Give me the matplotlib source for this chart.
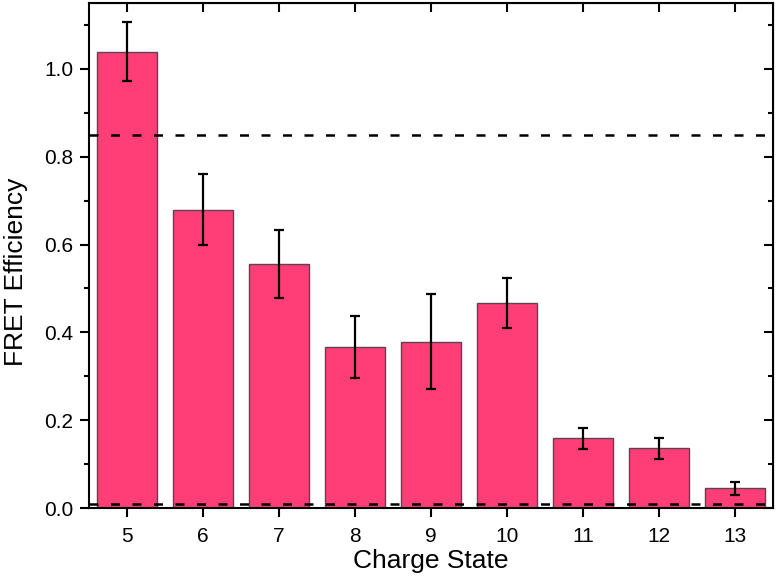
import matplotlib.pyplot as plt
import numpy as np
from matplotlib.ticker import MultipleLocator, FormatStrFormatter

plt.rcParams['font.family'] = ['Liberation Sans', 'DejaVu Sans']

# data
charge_states = [5, 6, 7, 8, 9, 10, 11, 12, 13]
fret = [1.039, 0.679, 0.555, 0.367, 0.379, 0.468, 0.159, 0.136, 0.045]
err_low = [0.067, 0.079, 0.077, 0.070, 0.108, 0.057, 0.025, 0.024, 0.015]
err_high = [0.067, 0.081, 0.078, 0.070, 0.108, 0.056, 0.023, 0.023, 0.014]
ref_lines = [0.85, 0.01]

fig = plt.figure(figsize=(7.76, 5.81), dpi=100)
ax = fig.add_axes([0.1147, 0.1256, 0.8813, 0.8692])

ax.bar(charge_states, fret, width=0.8, color='#ff3e77', edgecolor='#5b4450',
       linewidth=1.0, zorder=2)
ax.errorbar(charge_states, fret, yerr=[err_low, err_high], fmt='none',
            ecolor='black', elinewidth=1.6, capsize=3.4, capthick=1.6, zorder=4)

for y in ref_lines:
    ax.axhline(y, color='black', linewidth=1.8, dashes=(3.6, 5.0), zorder=3)

ax.set_xlim(4.5, 13.5)
ax.set_ylim(0, 1.15)
ax.set_xticks(charge_states)
ax.yaxis.set_major_locator(MultipleLocator(0.2))
ax.yaxis.set_minor_locator(MultipleLocator(0.1))
ax.yaxis.set_major_formatter(FormatStrFormatter('%.1f'))

ax.tick_params(axis='both', which='major', direction='out', length=6.5,
               width=1.5, labelsize=15)
ax.tick_params(axis='x', which='major', pad=7)
ax.tick_params(axis='y', which='major', pad=5)
ax.tick_params(axis='y', which='minor', direction='out', length=3.5, width=1.5)
for s in ax.spines.values():
    s.set_linewidth(1.5)

# inward ticks on the top and right
sec_x = ax.secondary_xaxis('top')
sec_x.set_xticks(charge_states)
sec_x.tick_params(direction='in', length=6.5, width=1.5, labeltop=False)
sec_y = ax.secondary_yaxis('right')
sec_y.yaxis.set_major_locator(MultipleLocator(0.2))
sec_y.yaxis.set_minor_locator(MultipleLocator(0.1))
sec_y.tick_params(which='major', direction='in', length=6.5, width=1.5, labelright=False)
sec_y.tick_params(which='minor', direction='in', length=3.5, width=1.5)

ax.set_xlabel('Charge State', fontsize=19, labelpad=2)
ax.set_ylabel('FRET Efficiency', fontsize=19)
ax.yaxis.set_label_coords(-0.089, 0.467)

fig.savefig('out.png', dpi=100)
